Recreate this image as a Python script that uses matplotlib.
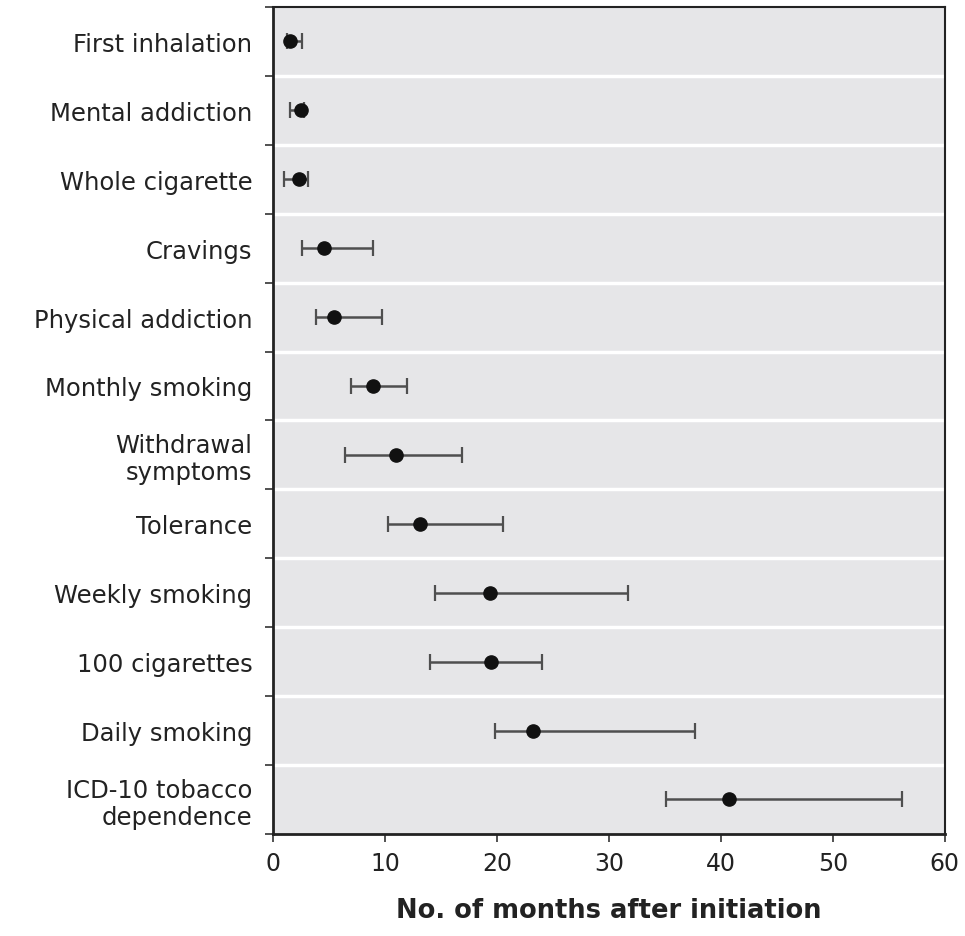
import matplotlib.pyplot as plt
import numpy as np

labels = ["First inhalation", "Mental addiction", "Whole cigarette", "Cravings",
          "Physical addiction", "Monthly smoking", "Withdrawal\nsymptoms", "Tolerance",
          "Weekly smoking", "100 cigarettes", "Daily smoking",
          "ICD-10 tobacco\ndependence"]
median = [1.5, 2.5, 2.35, 4.55, 5.45, 8.9, 11.0, 13.1, 19.4, 19.5, 23.2, 40.7]
lower = [1.2, 1.5, 1.0, 2.55, 3.85, 6.95, 6.45, 10.3, 14.5, 14.05, 19.8, 35.1]
upper = [2.6, 2.8, 3.1, 8.95, 9.75, 12.0, 16.85, 20.55, 31.7, 24.0, 37.7, 56.2]

plt.rcParams['font.family'] = 'DejaVu Sans'

fig = plt.figure(figsize=(9.65, 9.37), dpi=100)
ax = fig.add_axes([0.283, 0.109, 0.696, 0.8825])

n = len(labels)
ypos = np.arange(n) + 0.5
med = np.array(median)
err = [med - np.array(lower), np.array(upper) - med]

ax.set_facecolor('#e6e6e8')
ax.errorbar(med, ypos, xerr=err, fmt='o', color='#111111', ecolor='#4f4f4f',
            elinewidth=1.8, capsize=6, capthick=1.6, markersize=9.5, zorder=3)

# white separators between rows
for b in range(1, n):
    ax.axhline(b, color='white', linewidth=2.5, zorder=1)

ax.set_xlim(0, 60)
ax.set_ylim(n, 0)
ax.set_xticks(range(0, 61, 10))
ax.set_yticks(range(0, n + 1))
ax.set_yticklabels([])
ax.set_yticks(ypos, minor=True)
ax.set_yticklabels(labels, minor=True, fontsize=17.5, color='#222222')
ax.tick_params(axis='y', which='minor', length=0, pad=15)
ax.tick_params(axis='y', which='major', length=6, width=1.2, color='#333333')
ax.tick_params(axis='x', length=6, width=1.2, color='#333333', labelsize=17,
               labelcolor='#222222', pad=6)
for lab in ax.get_yticklabels(minor=True):
    lab.set_multialignment('right')
    lab.set_linespacing(1.15)

for s in ax.spines.values():
    s.set_color('#222222')
    s.set_linewidth(1.5)
ax.spines['left'].set_linewidth(2)
ax.spines['bottom'].set_linewidth(2)

ax.set_xlabel("No. of months after initiation", fontsize=18.5, fontweight='bold',
              color='#222222', labelpad=16)

plt.savefig("out.png", dpi=100)
